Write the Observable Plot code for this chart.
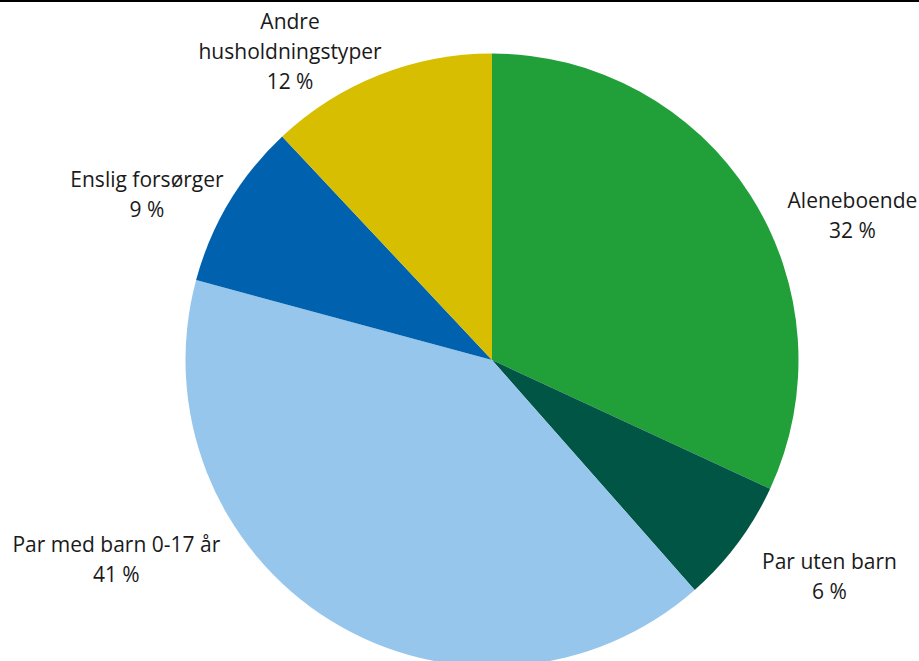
<!DOCTYPE html>
<html>
<head>
<meta charset="utf-8">
<script src="https://cdn.jsdelivr.net/npm/d3@7"></script>
<script src="https://cdn.jsdelivr.net/npm/@observablehq/plot@0.6"></script>
<style>
  html, body { margin: 0; padding: 0; background: #fff; }
  #wrap { position: relative; width: 919px; height: 661px; overflow: hidden; }
  #topline { position: absolute; left: 0; top: 0; width: 919px; height: 2px; background: #000; }
  svg { display: block; }
</style>
</head>
<body>
<div id="wrap"><div id="chart"></div><div id="topline"></div></div>
<script>
// Data (clockwise from 12 o'clock)
const categories = ["Aleneboende", "Par uten barn", "Par med barn 0-17 år", "Enslig forsørger", "Andre\nhusholdningstyper"];
const values = [31.9, 6.6, 40.7, 8.8, 12.0];
const percentLabels = ["32 %", "6 %", "41 %", "9 %", "12 %"];

// Styling / layout (kept apart from the data)
const colors = ["#21a039", "#005545", "#96c6eb", "#0062ae", "#d7be00"];
const labelAngle = [68.2, 122.8, 242.0, 295.5, 326.7];   // degrees, clockwise from top
const labelRadius = [1.265, 1.308, 1.39, 1.249, 1.203];   // in pie radii

const slices = d3.pie().sort(null).value(d => d.value)(
  categories.map((c, i) => ({category: c, value: values[i], color: colors[i]}))
);

const labels = categories.map((c, i) => {
  const a = labelAngle[i] * Math.PI / 180;
  return {
    text: c + "\n" + percentLabels[i],
    x: labelRadius[i] * Math.sin(a),
    y: labelRadius[i] * Math.cos(a)
  };
});

function pieMark(index, scales) {
  const x = scales.x, y = scales.y;
  const cx = x(0), cy = y(0), r = x(1) - x(0);
  const arc = d3.arc().innerRadius(0).outerRadius(r);
  const g = d3.create("svg:g").attr("transform", `translate(${cx},${cy})`);
  g.selectAll("path").data(slices).join("path")
    .attr("d", arc)
    .attr("fill", d => d.data.color);
  return g.node();
}

const chart = Plot.plot({
  width: 919,
  height: 661,
  margin: 0,
  style: {fontFamily: "'Open Sans', sans-serif", fontSize: "21px", color: "#1a1a1a", background: "#fff"},
  x: {domain: [-1.6052, 1.3932], axis: null},
  y: {domain: [-0.982, 1.1746], axis: null},
  marks: [
    pieMark,
    Plot.text(labels, {
      x: "x", y: "y", text: "text", dy: -3,
      fontSize: 21, lineHeight: 1.42, fill: "#1a1a1a",
      textAnchor: "middle", lineAnchor: "middle"
    })
  ]
});
document.getElementById("chart").append(chart);
</script>
</body>
</html>
